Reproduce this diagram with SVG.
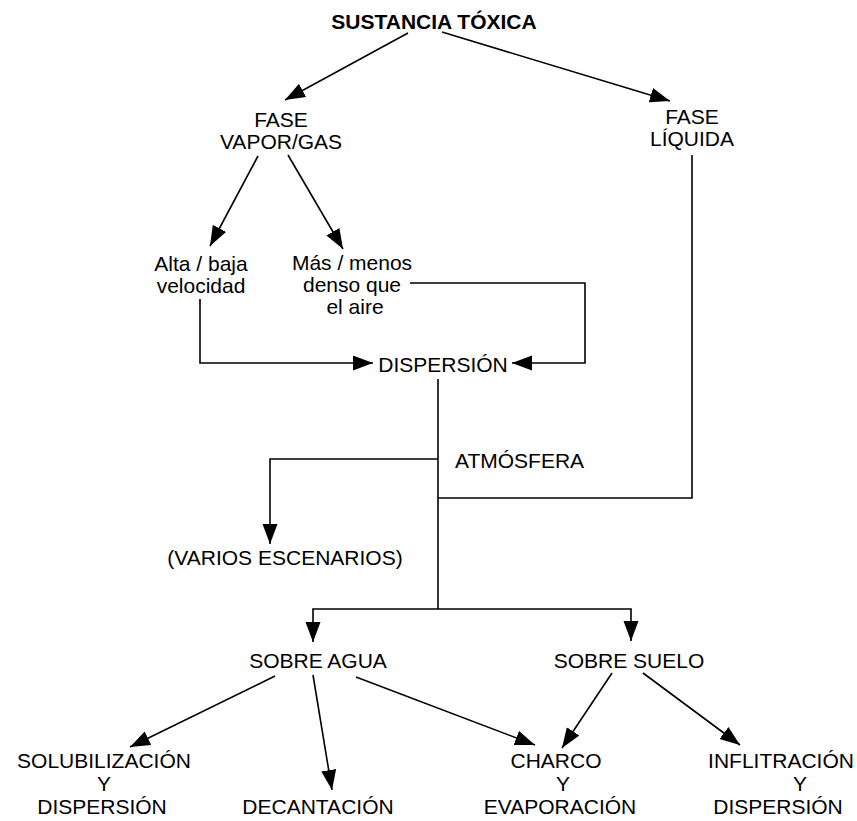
<svg xmlns="http://www.w3.org/2000/svg" width="857" height="821" viewBox="0 0 857 821">
  <style>
    text { font-family: "Liberation Sans", Arial, Helvetica, sans-serif; font-size: 21px; fill: #000; text-anchor: middle; }
    .title { font-weight: bold; }
    .link { fill: none; stroke: #000; stroke-width: 1.6; }
    .arrow { marker-end: url(#head); }
  </style>
  <defs>
    <marker id="head" markerUnits="userSpaceOnUse" markerWidth="21" markerHeight="16" refX="20" refY="7.5" orient="auto">
      <path d="M0,0 L20,7.5 L0,15 z" fill="#000"/>
    </marker>
  </defs>
  <rect width="857" height="821" fill="#fff"/>

  <g id="connectors">
    <line class="link arrow" x1="408" y1="33" x2="285" y2="100"/>
    <line class="link arrow" x1="442" y1="32" x2="670" y2="101"/>
    <line class="link arrow" x1="258" y1="156" x2="210" y2="246"/>
    <line class="link arrow" x1="288" y1="155" x2="343" y2="249"/>
    <polyline class="link arrow" points="200,299 200,363 373,363"/>
    <polyline class="link arrow" points="410,283 585,283 585,363 512,363"/>
    <line class="link" x1="438" y1="379" x2="438" y2="609"/>
    <polyline class="link arrow" points="438,459 270,459 270,544"/>
    <polyline class="link" points="438,498 692,498 692,155"/>
    <polyline class="link arrow" points="438,609 313,609 313,642"/>
    <polyline class="link arrow" points="438,609 631,609 631,641"/>
    <line class="link arrow" x1="275" y1="676" x2="130" y2="747"/>
    <line class="link arrow" x1="313" y1="675" x2="332" y2="790"/>
    <line class="link arrow" x1="356" y1="677" x2="535" y2="745"/>
    <line class="link arrow" x1="612" y1="673" x2="562" y2="748"/>
    <line class="link arrow" x1="643" y1="673" x2="740" y2="745"/>
  </g>

  <g id="sustancia-toxica"><text class="title" x="434" y="29">SUSTANCIA TÓXICA</text></g>
  <g id="fase-vapor-gas">
    <text x="281" y="127">FASE<tspan x="281" y="149">VAPOR/GAS</tspan></text>
  </g>
  <g id="fase-liquida">
    <text x="692" y="124">FASE<tspan x="692" y="146">LÍQUIDA</tspan></text>
  </g>
  <g id="velocidad">
    <text x="201" y="271">Alta / baja<tspan x="201" y="293">velocidad</tspan></text>
  </g>
  <g id="densidad">
    <text x="352" y="270">Más / menos<tspan x="352" y="292">denso que</tspan><tspan x="355" y="314">el aire</tspan></text>
  </g>
  <g id="dispersion"><text x="443" y="372">DISPERSIÓN</text></g>
  <g id="atmosfera"><text x="455" y="468" style="text-anchor:start">ATMÓSFERA</text></g>
  <g id="varios-escenarios"><text x="285" y="565">(VARIOS ESCENARIOS)</text></g>
  <g id="sobre-agua"><text x="318" y="668">SOBRE AGUA</text></g>
  <g id="sobre-suelo"><text x="629" y="668">SOBRE SUELO</text></g>
  <g id="solubilizacion">
    <text x="104" y="768">SOLUBILIZACIÓN<tspan x="104" y="791">Y</tspan><tspan x="102" y="814">DISPERSIÓN</tspan></text>
  </g>
  <g id="decantacion"><text x="318" y="814">DECANTACIÓN</text></g>
  <g id="charco">
    <text x="556" y="768">CHARCO<tspan x="563" y="791">Y</tspan><tspan x="560" y="814">EVAPORACIÓN</tspan></text>
  </g>
  <g id="infiltracion">
    <text x="781" y="768">INFLITRACIÓN<tspan x="800" y="791">Y</tspan><tspan x="778" y="814">DISPERSIÓN</tspan></text>
  </g>
</svg>
